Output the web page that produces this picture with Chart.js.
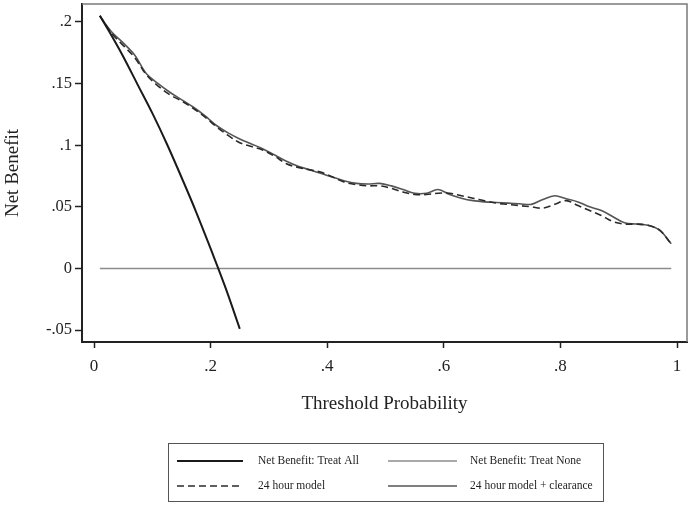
<!DOCTYPE html>
<html>
<head>
<meta charset="utf-8">
<script src="https://cdn.jsdelivr.net/npm/chart.js@4"></script>
<style>
html,body{margin:0;padding:0;background:#fff;}
#wrap{width:693px;height:507px;position:relative;}
</style>
</head>
<body>
<div id="wrap"><canvas id="c" width="693" height="507"></canvas></div>
<script>
// ---- data ----
const thresholds = [0.01,0.03,0.05,0.07,0.09,0.11,0.13,0.15,0.17,0.19,0.21,0.23,0.25,0.27,0.29,0.31,0.33,0.35,0.37,0.39,0.41,0.43,0.45,0.47,0.49,0.51,0.53,0.55,0.57,0.59,0.61,0.63,0.65,0.67,0.69,0.71,0.73,0.75,0.77,0.79,0.81,0.83,0.85,0.87,0.89,0.91,0.93,0.95,0.97,0.99];
const model24 = [0.205,0.191,0.181,0.171,0.157,0.148,0.141,0.136,0.130,0.123,0.115,0.108,0.102,0.099,0.096,0.091,0.085,0.082,0.080,0.078,0.074,0.070,0.068,0.067,0.067,0.065,0.062,0.060,0.060,0.061,0.061,0.059,0.057,0.055,0.053,0.052,0.051,0.050,0.049,0.052,0.055,0.051,0.047,0.043,0.038,0.036,0.036,0.035,0.031,0.020];
const modelClear = [0.205,0.192,0.183,0.173,0.158,0.150,0.143,0.137,0.131,0.124,0.116,0.110,0.105,0.101,0.097,0.092,0.087,0.083,0.080,0.077,0.074,0.071,0.069,0.0685,0.069,0.067,0.064,0.061,0.061,0.064,0.060,0.057,0.055,0.054,0.0535,0.053,0.0525,0.052,0.056,0.059,0.0565,0.054,0.050,0.047,0.042,0.037,0.036,0.035,0.031,0.020];
const allThresholds = [0.01,0.03,0.05,0.075,0.10,0.125,0.15,0.175,0.20,0.225,0.25];
const treatAll = [0.205,0.189,0.172,0.149,0.126,0.101,0.074,0.046,0.016,-0.015,-0.049];
const noneThresholds = [0.01,0.99];
const treatNone = [0,0];
const xTickValues = [0,0.2,0.4,0.6,0.8,1];
const xTickLabels = ["0",".2",".4",".6",".8","1"];
const yTickValues = [-0.05,0,0.05,0.1,0.15,0.2];
const yTickLabels = ["-.05","0",".05",".1",".15",".2"];
const seriesLabels = ["Net Benefit: Treat All","Net Benefit: Treat None","24 hour model","24 hour model + clearance"];

const pts = (xs, ys) => xs.map((x,i)=>({x:x,y:ys[i]}));
const SERIF = '"Liberation Serif","Times New Roman",serif';

const frameAndLegend = {
  id:'frameAndLegend',
  beforeDatasetsDraw(chart){
    const {ctx, chartArea:a} = chart;
    ctx.save();
    ctx.strokeStyle = '#7a7a7a';
    ctx.lineWidth = 1.5;
    ctx.beginPath();
    ctx.moveTo(a.left, a.top); ctx.lineTo(a.right, a.top); ctx.lineTo(a.right, a.bottom);
    ctx.stroke();
    ctx.restore();
  },
  afterDraw(chart){
    const ctx = chart.ctx;
    ctx.save();
    ctx.strokeStyle = '#555';
    ctx.lineWidth = 1;
    ctx.strokeRect(168.5, 443.5, 435, 58);
    const slots = [
      {lx:177, lw:66, tx:258, y:461},
      {lx:388, lw:69, tx:470, y:461},
      {lx:177, lw:66, tx:258, y:486},
      {lx:388, lw:69, tx:470, y:486}
    ];
    chart.data.datasets.forEach((ds,i)=>{
      const s = slots[i];
      ctx.beginPath();
      ctx.strokeStyle = ds.borderColor;
      ctx.lineWidth = ds.borderWidth;
      ctx.setLineDash(ds.borderDash || []);
      ctx.moveTo(s.lx, s.y); ctx.lineTo(s.lx + s.lw, s.y);
      ctx.stroke();
      ctx.setLineDash([]);
      ctx.fillStyle = '#1e1e1e';
      ctx.font = '11.5px ' + SERIF;
      ctx.textBaseline = 'middle';
      ctx.textAlign = 'left';
      ctx.fillText(ds.label, s.tx, s.y);
    });
    ctx.restore();
  }
};

new Chart(document.getElementById('c'), {
  type:'line',
  data:{
    datasets:[
      {label:seriesLabels[0], data:pts(allThresholds,treatAll), borderColor:'#1a1a1a', borderWidth:2, pointRadius:0, tension:0.4, fill:false},
      {label:seriesLabels[1], data:pts(noneThresholds,treatNone), borderColor:'#8c8c8c', borderWidth:1.5, pointRadius:0, fill:false},
      {label:seriesLabels[2], data:pts(thresholds,model24), borderColor:'#2a2a2a', borderWidth:1.6, borderDash:[7,4], pointRadius:0, tension:0.35, fill:false},
      {label:seriesLabels[3], data:pts(thresholds,modelClear), borderColor:'#555555', borderWidth:1.6, pointRadius:0, tension:0.35, fill:false}
    ]
  },
  options:{
    responsive:false,
    animation:false,
    devicePixelRatio:1,
    layout:{padding:{left:0, top:4, right:6, bottom:92}},
    plugins:{legend:{display:false}, tooltip:{enabled:false}},
    scales:{
      x:{
        type:'linear', min:-0.0206, max:1.017,
        afterBuildTicks(s){ s.ticks = xTickValues.map(v=>({value:v})); },
        afterFit(s){ s.height = 73; s.paddingLeft = 0; s.paddingRight = 0; },
        ticks:{ callback:(v)=>{const i=xTickValues.findIndex(t=>Math.abs(t-v)<1e-9); return i>=0?xTickLabels[i]:'';},
                font:{family:SERIF, size:17}, color:'#222', padding:8, maxRotation:0, autoSkip:false },
        grid:{drawOnChartArea:false, drawTicks:true, tickLength:6, tickColor:'#222', tickWidth:1.5},
        border:{display:true, color:'#222', width:2},
        title:{display:true, text:'Threshold Probability', font:{family:SERIF, size:19}, color:'#222', padding:0}
      },
      y:{
        type:'linear', min:-0.0597, max:0.2146,
        afterBuildTicks(s){ s.ticks = yTickValues.map(v=>({value:v})); },
        afterFit(s){ s.width = 82; s.paddingTop = 0; s.paddingBottom = 0; },
        ticks:{ callback:(v)=>{const i=yTickValues.findIndex(t=>Math.abs(t-v)<1e-9); return i>=0?yTickLabels[i]:'';},
                font:{family:SERIF, size:16.5}, color:'#222', padding:3, autoSkip:false },
        grid:{drawOnChartArea:false, drawTicks:true, tickLength:7, tickColor:'#222', tickWidth:1.5},
        border:{display:true, color:'#222', width:2},
        title:{display:true, text:'Net Benefit', font:{family:SERIF, size:19}, color:'#222', padding:{top:2,bottom:0}}
      }
    }
  },
  plugins:[frameAndLegend]
});
</script>
</body>
</html>
